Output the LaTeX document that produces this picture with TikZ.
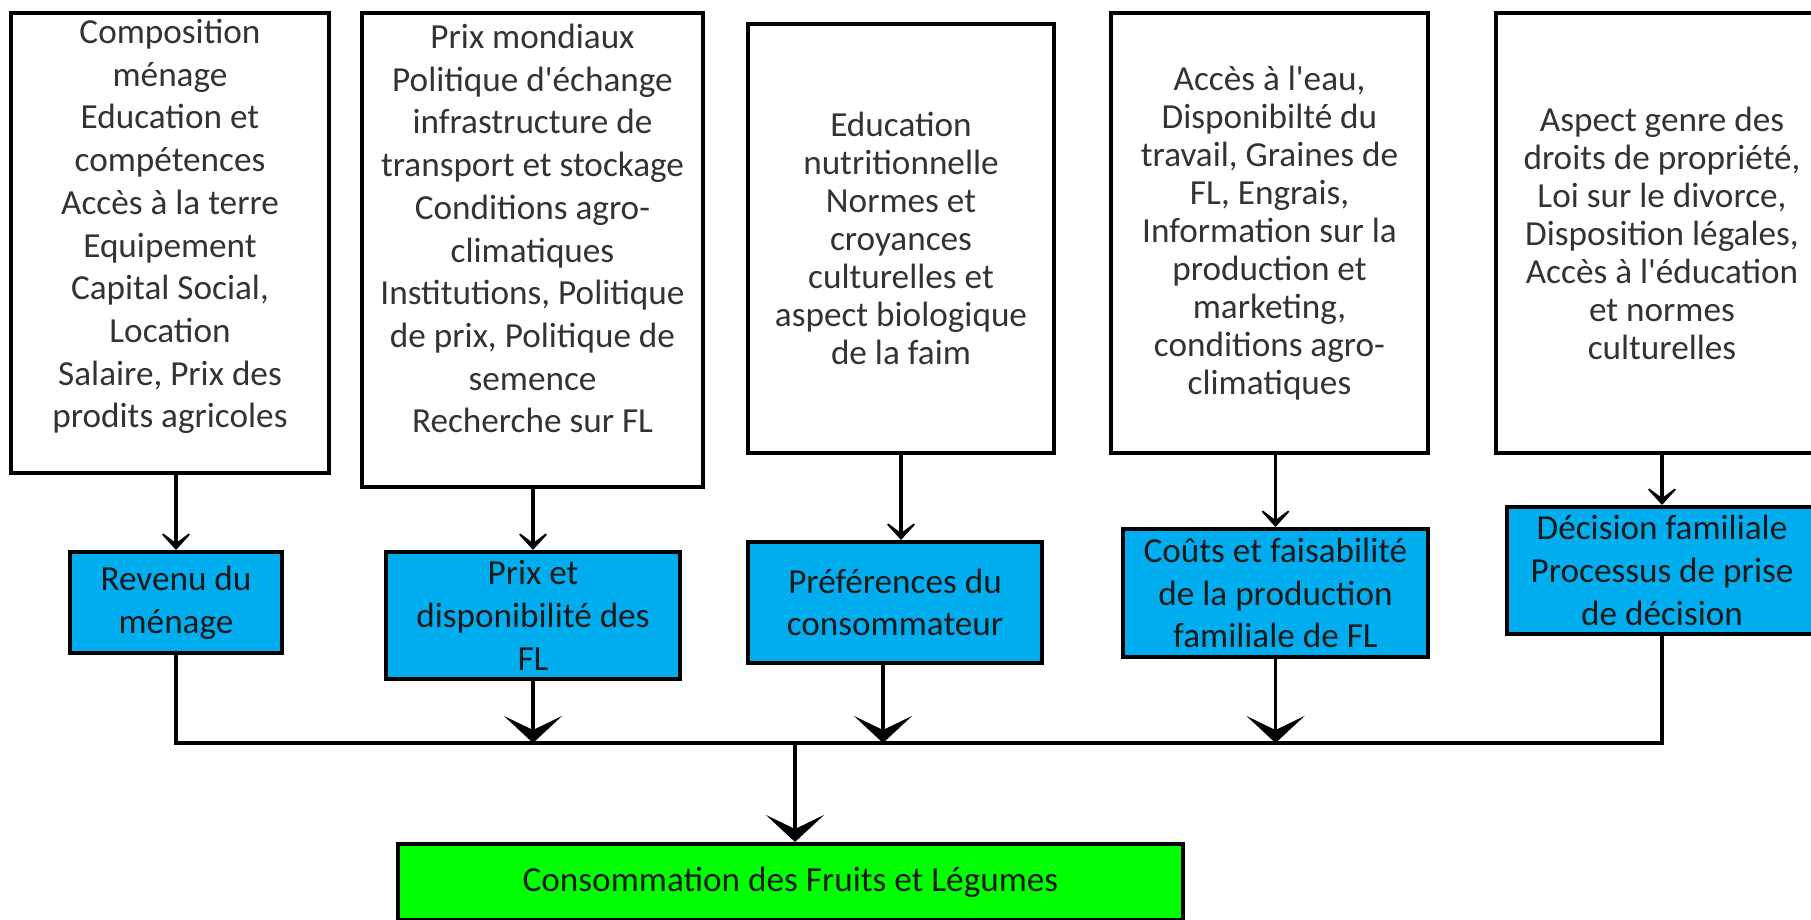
\documentclass[tikz,border=0pt]{standalone}
\usepackage{fontspec}
\setmainfont{Carlito}
\usepackage{tikz}
\usetikzlibrary{arrows.meta}
\definecolor{drvblue}{HTML}{00AEEF}
\definecolor{outgreen}{HTML}{00FF00}
\definecolor{txtgray}{HTML}{333333}

\begin{document}
\begin{tikzpicture}[
    x=0.5pt, y=-0.5pt,
    font=\fontsize{17.6pt}{21.35pt}\selectfont,
    box/.style={draw, line width=2pt, align=center, inner sep=2pt},
    factor/.style={box, fill=white, text=txtgray},
    tight/.style={font=\fontsize{17.6pt}{19pt}\selectfont},
    driver/.style={box, fill=drvblue, text=black!90},
    outcome/.style={box, fill=outgreen, text=black!90},
    line/.style={line width=1.7pt},
    arrow/.style={line, -{Stealth[length=11pt, width=20pt, inset=7.5pt]}},
    bigarrow/.style={line, -{Stealth[length=13.5pt, width=29pt, inset=7pt]}}
]
    \useasboundingbox (0,0) rectangle (1811,920);

    % top row: determinants
    \node (menage) [factor, minimum width=159pt, minimum height=230pt, text depth=19.5pt] at (170,243)
        {Composition\\ ménage\\ Education et\\ compétences\\ Accès à la terre\\ Equipement\\ Capital Social,\\ Location\\ Salaire, Prix des\\ prodits agricoles};
    \node (marche) [factor, minimum width=170.5pt, minimum height=237pt, text depth=21.5pt] at (532.5,250)
        {Prix mondiaux\\ Politique d\textquotesingle échange\\ infrastructure de\\ transport et stockage\\ Conditions agro-\\ climatiques\\ Institutions, Politique\\ de prix, Politique de\\ semence\\ Recherche sur FL};
    \node (culture) [factor, tight, minimum width=153pt, minimum height=214.5pt] at (901,238.5)
        {Education\\ nutritionnelle\\ Normes et\\ croyances\\ culturelles et\\ aspect biologique\\ de la faim};
    \node (ressources) [factor, tight, minimum width=158.5pt, minimum height=220pt] at (1269.5,233)
        {Accès à l\textquotesingle eau,\\ Disponibilté du\\ travail, Graines de\\ FL, Engrais,\\ Information sur la\\ production et\\ marketing,\\ conditions agro-\\ climatiques};
    \node (genre) [factor, tight, minimum width=166pt, minimum height=220pt] at (1662,233)
        {Aspect genre des\\ droits de propriété,\\ Loi sur le divorce,\\ Disposition légales,\\ Accès à l\textquotesingle éducation\\ et normes\\ culturelles};

    % middle row: drivers
    \node (revenu) [driver, minimum width=106pt, minimum height=50.5pt] at (176,602.5) {Revenu du\\ ménage};
    \node (prix) [driver, minimum width=147pt, minimum height=63.5pt] at (533,615.5) {Prix et\\ disponibilité des\\ FL};
    \node (pref) [driver, minimum width=147pt, minimum height=60.5pt] at (895,602.5) {Préférences du\\ consommateur};
    \node (prod) [driver, minimum width=152.5pt, minimum height=64pt] at (1275.5,593) {Coûts et faisabilité\\ de la production\\ familiale de FL};
    \node (decision) [driver, minimum width=155pt, minimum height=63.5pt] at (1662,570.5) {Décision familiale\\ Processus de prise\\ de décision};

    % outcome
    \node (conso) [outcome, minimum width=392.5pt, minimum height=38pt] at (790.5,882) {Consommation des Fruits et Légumes};

    \coordinate (bus) at (795,743);

    \draw[arrow] (revenu.north |- menage.south) -- (revenu.north);
    \draw[arrow] (prix.north |- marche.south) -- (prix.north);
    \draw[arrow] (culture.south) -- (culture.south |- pref.north);
    \draw[arrow] (prod.north |- ressources.south) -- (prod.north);
    \draw[arrow] (genre.south) -- (decision.north);

    \draw[line] (revenu.south) |- (bus) -| (decision.south);
    \draw[bigarrow] (prix.south) -- (prix.south |- bus);
    \draw[bigarrow] ([xshift=-6pt]pref.south) -- ([xshift=-6pt]pref.south |- bus);
    \draw[bigarrow] (prod.south) -- (prod.south |- bus);
    \draw[bigarrow] (bus) -- (bus |- conso.north);
\end{tikzpicture}
\end{document}
